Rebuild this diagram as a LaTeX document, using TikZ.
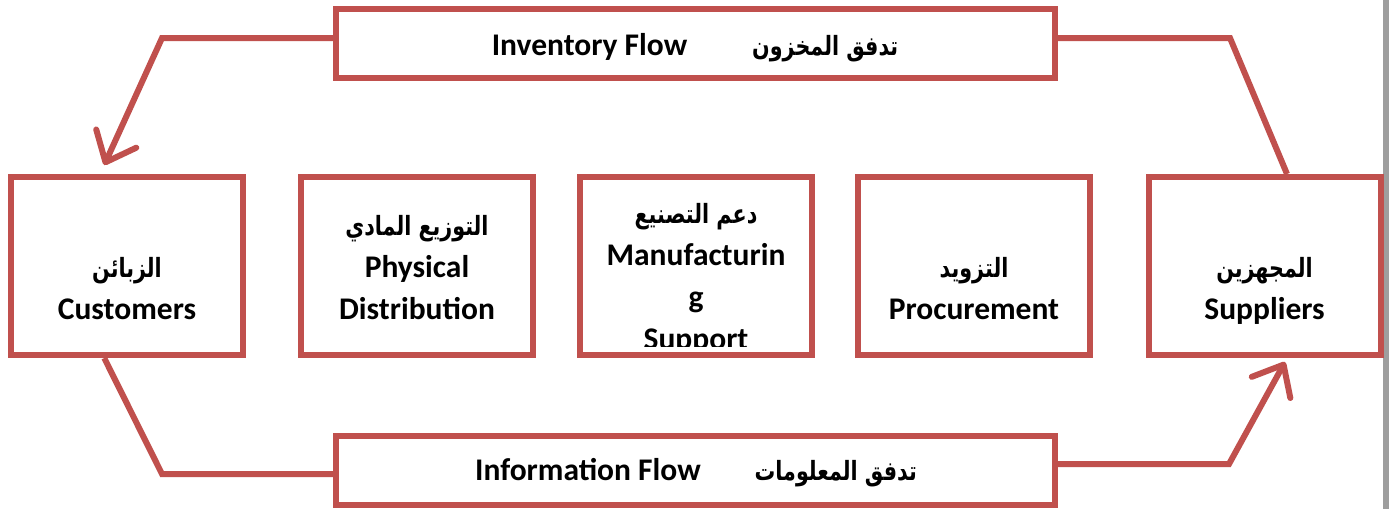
\documentclass[tikz,border=0pt]{standalone}
\usepackage{fontspec}
\setmainfont{Carlito}
\newfontfamily\arabicfont[Script=Arabic, FakeStretch=0.78]{DejaVu Sans}
\TeXXeTstate=1
\usetikzlibrary{arrows.meta}
\definecolor{boxred}{HTML}{C0504D}
\newcommand{\artxt}[1]{{\arabicfont\bfseries\fontsize{26.5}{41}\selectfont\beginR #1\endR}}
\begin{document}
\begin{tikzpicture}[x=1pt,y=-1pt,
  box/.style={draw=boxred, line width=6pt, minimum width=232pt, minimum height=178pt, inner sep=0pt},
  flowbox/.style={draw=boxred, line width=6pt, minimum width=719pt, minimum height=69pt, inner sep=0pt},
  txt/.style={align=center, font=\bfseries\fontsize{31.5}{42}\selectfont, inner sep=0pt},
  flow/.style={draw=boxred, line width=6pt},
  flowarrow/.style={flow, -{Straight Barb[round, length=26pt, width=44pt]}}]
\useasboundingbox (0,0) rectangle (1389,509);
\fill[black!38] (1383,0) rectangle (1389,509);
% the five stages
\node (cust) at (127.25,266) [box] {};
\node (phys) at (417,266) [box] {};
\node (manu) at (696,266) [box] {};
\node (proc) at (974,266) [box] {};
\node (supp) at (1264.5,266) [box] {};
\node (custtxt) at (127,319) [txt, anchor=base] {\artxt{الزبائن}\\Customers};
\node (phystxt) at (417,319) [txt, anchor=base] {\artxt{التوزيع المادي}\\Physical\\Distribution};
\node (proctxt) at (974,319) [txt, anchor=base] {\artxt{التزويد}\\Procurement};
\node (supptxt) at (1264.5,319) [txt, anchor=base] {\artxt{المجهزين}\\Suppliers};
\begin{scope}
  \clip (manu.north west) rectangle ([yshift=12pt]manu.south east);
  \node (manutxt) at (696,349) [txt, anchor=base] {\artxt{دعم التصنيع}\\Manufacturin\\g\\Support};
\end{scope}
% the two flows
\node (inv) at (695.5,43) [flowbox] {};
\node (info) at (695.5,470) [flowbox] {};
\node (invtxt) at (695,48) [txt] {Inventory Flow\hspace{65pt}\artxt{تدفق المخزون}};
\node (infotxt) at (696,473) [txt] {Information Flow\hspace{54pt}\artxt{تدفق المعلومات}};
\coordinate (invr) at (1230,38);
\coordinate (invl) at (162,38);
\coordinate (infol) at (162,474);
\coordinate (infor) at (1229,464);
\draw[flow] ([xshift=22.5pt]supp.north) -- (invr) -- (invr -| inv.east);
\draw[flowarrow] (invl -| inv.west) -- (invl) -- ([xshift=-23pt,yshift=9pt]cust.north);
\draw[flow] ([xshift=-23pt]cust.south) -- (infol) -- (infol -| info.west);
\draw[flowarrow] (infor -| info.east) -- (infor) -- ([xshift=20.5pt,yshift=-4pt]supp.south);
\end{tikzpicture}
\end{document}
